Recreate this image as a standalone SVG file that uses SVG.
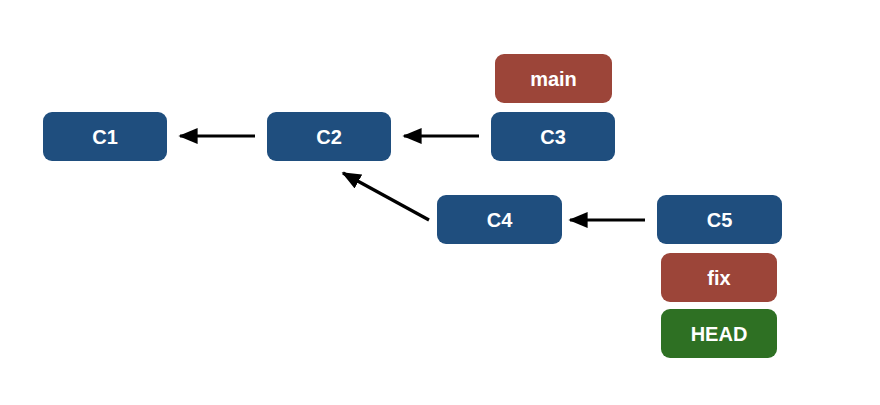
<svg xmlns="http://www.w3.org/2000/svg" width="880" height="405" viewBox="0 0 880 405">
<style>
.commit{fill:#1F4E7E}
.branch{fill:#9C4539}
.head{fill:#2E7023}
.lbl{fill:#fff;font-family:"Liberation Sans",Arial,sans-serif;font-weight:bold;font-size:20px;text-anchor:middle;dominant-baseline:central}
.edge{stroke:#000;stroke-width:3.2;fill:none;marker-end:url(#ah)}
</style>
<defs>
<marker id="ah" markerWidth="6" markerHeight="5" refX="5.5" refY="2.5" orient="auto" markerUnits="strokeWidth">
<path d="M0,0 L6,2.5 L0,5 Z" fill="#000"/>
</marker>
</defs>
<rect width="880" height="405" fill="#fff"/>
<g id="connectors">
<line class="edge" x1="255" y1="136" x2="180" y2="136"/>
<line class="edge" x1="479" y1="136" x2="404" y2="136"/>
<line class="edge" x1="645" y1="220" x2="570" y2="220"/>
<line class="edge" x1="429" y1="220" x2="343" y2="173"/>
</g>
<g id="C1"><rect class="commit" x="43" y="112" width="124" height="49" rx="9"/><text class="lbl" x="105" y="136.5">C1</text></g>
<g id="C2"><rect class="commit" x="267" y="112" width="124" height="49" rx="9"/><text class="lbl" x="329" y="136.5">C2</text></g>
<g id="C3"><rect class="commit" x="491" y="112" width="124" height="49" rx="9"/><text class="lbl" x="553" y="136.5">C3</text></g>
<g id="main"><rect class="branch" x="495" y="54" width="117" height="49" rx="9"/><text class="lbl" x="553.5" y="78.5">main</text></g>
<g id="C4"><rect class="commit" x="437" y="195" width="125" height="49" rx="9"/><text class="lbl" x="499.5" y="219.5">C4</text></g>
<g id="C5"><rect class="commit" x="657" y="195" width="125" height="49" rx="9"/><text class="lbl" x="719.5" y="219.5">C5</text></g>
<g id="fix"><rect class="branch" x="661" y="253" width="116" height="49" rx="9"/><text class="lbl" x="719" y="277.5">fix</text></g>
<g id="HEAD"><rect class="head" x="661" y="309" width="116" height="49" rx="9"/><text class="lbl" x="719" y="333.5">HEAD</text></g>
</svg>
